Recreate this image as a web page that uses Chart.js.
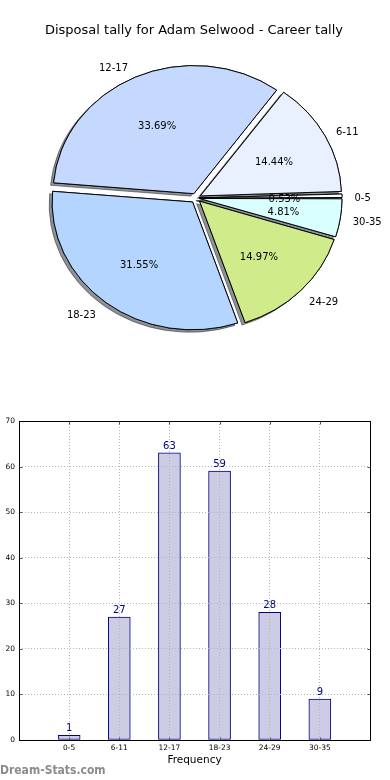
<!DOCTYPE html>
<html>
<head>
<meta charset="utf-8">
<script src="https://cdn.jsdelivr.net/npm/chart.js@4/dist/chart.umd.min.js"></script>
<style>
    html, body { margin: 0; padding: 0; background: #fff; }
    canvas { display: block; }
</style>
</head>
<body>
<canvas id="pieChart" width="390" height="400"></canvas>
<canvas id="barChart" width="390" height="380"></canvas>
<script>
const titleText = 'Disposal tally for Adam Selwood - Career tally';
const categories = ['0-5', '6-11', '12-17', '18-23', '24-29', '30-35'];
const disposals = [1, 27, 63, 59, 28, 9];
const yTicks = [0, 10, 20, 30, 40, 50, 60, 70];
const xTitle = 'Frequency';
const watermark = 'Dream-Stats.com';

const sliceColors = ['#ffffff', '#e9f0ff', '#c5d9ff', '#b4d5ff', '#d0eb8a', '#d9ffff'];
const FONT = "'DejaVu Sans', sans-serif";

const total = disposals.reduce((a, b) => a + b, 0);
const explode = 6;      // px every slice is pulled out
const squash = 0.91;    // the original pie is a bit flat
const pieRadius = 140;

// chart.js moves small slices further than big ones, undo that so all move the same
function arcOffset(v) {
    const circ = 2 * Math.PI * v / total;
    const fix = 1 - Math.sin(Math.min(Math.PI, circ));
    return 4 * explode / (1 + fix);
}

// pie goes clockwise from 3 o'clock, the original counter-clockwise, so reverse
const pieLabels = categories.slice().reverse();
const pieValues = disposals.slice().reverse();
const pieColors = sliceColors.slice().reverse();

const pieDecor = {
    id: 'pieDecor',
    beforeDatasetsDraw(chart) {
        const ctx = chart.ctx;
        const arcs = chart.getDatasetMeta(0).data;
        const cx = arcs[0].x, cy = arcs[0].y;
        ctx.save();
        ctx.translate(cx, cy);
        ctx.scale(1, squash);
        ctx.translate(-cx, -cy);
        // shadows go under every slice
        ctx.save();
        ctx.shadowColor = 'rgba(30,35,45,0.5)';
        ctx.shadowOffsetX = -3;
        ctx.shadowOffsetY = 2.5;
        arcs.forEach(a => a.draw(ctx));
        ctx.restore();
    },
    afterDatasetsDraw(chart) {
        chart.ctx.restore();
    },
    afterDraw(chart) {
        const ctx = chart.ctx;
        const arcs = chart.getDatasetMeta(0).data;
        ctx.save();
        ctx.fillStyle = '#000';
        ctx.font = '10px ' + FONT;
        ctx.textBaseline = 'middle';
        arcs.forEach((a, i) => {
            const mid = (a.startAngle + a.endAngle) / 2;
            const cos = Math.cos(mid), sin = Math.sin(mid);
            const px = k => a.x + (explode + k * a.outerRadius) * cos - 1.5;
            const py = k => a.y + squash * (explode + k * a.outerRadius) * sin + 2.5;
            ctx.textAlign = cos >= 0 ? 'left' : 'right';
            ctx.fillText(pieLabels[i], px(1.1), py(1.1));
            ctx.textAlign = 'center';
            ctx.fillText((pieValues[i] / total * 100).toFixed(2) + '%', px(0.6), py(0.6));
        });
        ctx.font = '13px ' + FONT;
        ctx.textAlign = 'center';
        ctx.textBaseline = 'alphabetic';
        ctx.fillText(titleText, 194, 34);
        ctx.restore();
    }
};

new Chart(document.getElementById('pieChart'), {
    type: 'pie',
    data: {
        labels: pieLabels,
        datasets: [{
            data: pieValues,
            backgroundColor: pieColors,
            borderColor: '#000',
            borderWidth: 1,
            borderJoinStyle: 'miter',
            offset: pieValues.map(arcOffset),
            hoverOffset: 0
        }]
    },
    options: {
        responsive: false,
        animation: false,
        events: [],
        radius: pieRadius,
        rotation: 90,
        layout: { padding: { left: 2, right: 0, top: 0, bottom: 4 } },
        plugins: { legend: { display: false }, tooltip: { enabled: false } }
    },
    plugins: [pieDecor]
});

// bar chart: an empty slot each side so the bars sit like the original
const barLabels = [''].concat(categories, ['']);
const barValues = [null].concat(disposals, [null]);

const barDecor = {
    id: 'barDecor',
    afterDraw(chart) {
        const ctx = chart.ctx;
        const a = chart.chartArea;
        const l = Math.round(a.left) + 0.5, r = Math.round(a.right) + 0.5;
        const t = Math.round(a.top) + 0.5, b = Math.round(a.bottom) + 0.5;
        ctx.save();
        // little inside ticks
        ctx.strokeStyle = '#555';
        ctx.lineWidth = 1;
        ctx.beginPath();
        categories.forEach((c, i) => {
            const x = Math.round(chart.scales.x.getPixelForValue(i + 1)) + 0.5;
            ctx.moveTo(x, t); ctx.lineTo(x, t + 3);
            ctx.moveTo(x, b); ctx.lineTo(x, b - 3);
        });
        yTicks.forEach(v => {
            const y = Math.round(chart.scales.y.getPixelForValue(v)) + 0.5;
            ctx.moveTo(l, y); ctx.lineTo(l + 3, y);
            ctx.moveTo(r, y); ctx.lineTo(r - 3, y);
        });
        ctx.stroke();
        ctx.strokeStyle = '#000';
        ctx.strokeRect(l, t, r - l, b - t);

        // counts above the bars
        ctx.fillStyle = '#00008b';
        ctx.font = '10px ' + FONT;
        ctx.textAlign = 'center';
        ctx.textBaseline = 'alphabetic';
        chart.getDatasetMeta(0).data.forEach((bar, i) => {
            if (barValues[i] == null) return;
            ctx.fillText(barValues[i], bar.x, bar.y - 4);
        });

        ctx.fillStyle = '#8c8c8c';
        ctx.font = "bold 12px 'DejaVu Sans Condensed', 'DejaVu Sans', sans-serif";
        ctx.textAlign = 'left';
        ctx.fillText(watermark, 0, 373.5);
        ctx.restore();
    }
};

new Chart(document.getElementById('barChart'), {
    type: 'bar',
    data: {
        labels: barLabels,
        datasets: [{
            data: barValues,
            backgroundColor: 'rgb(204,204,229)',
            borderColor: '#000080',
            borderWidth: 1,
            borderSkipped: false,
            barThickness: 22
        }]
    },
    options: {
        responsive: false,
        animation: false,
        events: [],
        layout: { padding: { left: 0, right: 20, top: 21, bottom: 0 } },
        plugins: { legend: { display: false }, tooltip: { enabled: false } },
        scales: {
            x: {
                offset: false,
                grid: { color: '#b4b4b4', z: 1, drawTicks: false, offset: false },
                border: { display: false, dash: [1, 2] },
                ticks: { font: { family: FONT, size: 7.5 }, color: '#000', padding: 4, maxRotation: 0, autoSkip: false },
                title: { display: true, text: xTitle, color: '#000', font: { family: FONT, size: 10.5 }, padding: { top: 0, bottom: 13 } },
                afterFit: s => { s.height = 40; }
            },
            y: {
                min: yTicks[0],
                max: yTicks[yTicks.length - 1],
                grid: { color: '#b4b4b4', z: 1, drawTicks: false },
                border: { display: false, dash: [1, 2] },
                ticks: { stepSize: 10, font: { family: FONT, size: 7.5 }, color: '#000', padding: 4 },
                afterFit: s => { s.width = 19; }
            }
        }
    },
    plugins: [barDecor]
});
</script>
</body>
</html>
